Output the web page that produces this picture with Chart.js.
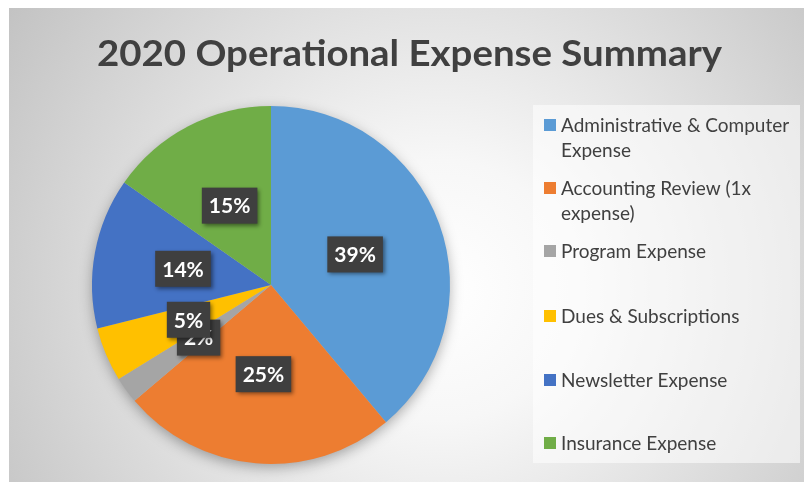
<!DOCTYPE html>
<html>
<head>
<meta charset="utf-8">
<script src="https://cdn.jsdelivr.net/npm/chart.js@4/dist/chart.umd.min.js"></script>
<style>
  html, body { margin: 0; padding: 0; background: #fff; }
  #wrap { width: 804px; height: 482px; position: relative; }
</style>
</head>
<body>
<div id="wrap"><canvas id="pieChart"></canvas></div>
<script>
const TITLE = '2020 Operational Expense Summary';
const categories = [
  'Administrative & Computer Expense',
  'Accounting Review (1x expense)',
  'Program Expense',
  'Dues & Subscriptions',
  'Newsletter Expense',
  'Insurance Expense'
];
const shares = [38.9, 24.9, 2.4, 4.9, 13.6, 15.3];
const colors = ['#5B9BD5', '#ED7D31', '#A5A5A5', '#FFC000', '#4472C4', '#70AD47'];

// legend row centres (Excel spreads them out unevenly)
const legendRows = [125, 188, 251, 316, 380, 443];

function wrapText(ctx, text, maxW) {
  const words = text.split(' ');
  const lines = [];
  let cur = '';
  words.forEach(w => {
    const t = cur ? cur + ' ' + w : w;
    if (ctx.measureText(t).width > maxW && cur) { lines.push(cur); cur = w; }
    else cur = t;
  });
  if (cur) lines.push(cur);
  return lines;
}

const excelLook = {
  id: 'excelLook',
  beforeDraw(chart) {
    const ctx = chart.ctx;
    const W = chart.width, H = chart.height;
    ctx.save();
    ctx.fillStyle = '#fff';
    ctx.fillRect(0, 0, W, H);
    const g = ctx.createRadialGradient(440, 290, 0, 440, 290, 520);
    g.addColorStop(0, '#ffffff');
    g.addColorStop(0.25, '#f7f7f7');
    g.addColorStop(1, '#c2c2c2');
    ctx.fillStyle = g;
    ctx.fillRect(9, 8, W - 9, H - 8);

    // title
    ctx.fillStyle = '#404040';
    ctx.font = 'bold 37px Lato';
    ctx.textBaseline = 'alphabetic';
    ctx.textAlign = 'left';
    const tw = ctx.measureText(TITLE).width;
    const sx = 625 / tw;
    ctx.translate(97, 66);
    ctx.scale(sx, 1);
    ctx.fillText(TITLE, 0, 0);
    ctx.restore();

    // legend box
    ctx.save();
    ctx.fillStyle = 'rgba(255,255,255,0.55)';
    ctx.fillRect(533, 105, 267, 358);
    ctx.font = '19px Lato';
    ctx.textBaseline = 'middle';
    categories.forEach((c, i) => {
      const y = legendRows[i];
      ctx.fillStyle = colors[i];
      ctx.fillRect(544, y - 6, 12, 12);
      ctx.fillStyle = '#404040';
      wrapText(ctx, c, 236).forEach((ln, k) => ctx.fillText(ln, 561, y + 1 + k * 25));
    });
    ctx.restore();
  },
  beforeDatasetsDraw(chart) {
    const arc = chart.getDatasetMeta(0).data[0];
    if (!arc) return;
    const ctx = chart.ctx;
    ctx.save();
    ctx.shadowColor = 'rgba(0,0,0,0.35)';
    ctx.shadowBlur = 14;
    ctx.shadowOffsetY = 4;
    ctx.fillStyle = '#bbb';
    ctx.beginPath();
    ctx.arc(arc.x, arc.y, arc.outerRadius - 1, 0, Math.PI * 2);
    ctx.fill();
    ctx.restore();
  },
  afterDatasetsDraw(chart) {
    const ctx = chart.ctx;
    const total = shares.reduce((s, v) => s + v, 0);
    ctx.save();
    ctx.font = 'bold 21px Lato';
    ctx.textAlign = 'center';
    ctx.textBaseline = 'middle';
    chart.getDatasetMeta(0).data.forEach((el, i) => {
      const p = el.tooltipPosition();
      const txt = Math.round(shares[i] / total * 100) + '%';
      const w = ctx.measureText(txt).width + 14;
      const h = 36;
      ctx.save();
      ctx.shadowColor = 'rgba(0,0,0,0.45)';
      ctx.shadowBlur = 4;
      ctx.shadowOffsetX = 2;
      ctx.shadowOffsetY = 2;
      ctx.fillStyle = '#3f3f3f';
      ctx.fillRect(p.x - w / 2, p.y - h / 2, w, h);
      ctx.restore();
      ctx.fillStyle = '#fff';
      ctx.fillText(txt, p.x, p.y + 1);
    });
    ctx.restore();
  }
};

new Chart(document.getElementById('pieChart'), {
  type: 'pie',
  data: {
    labels: categories,
    datasets: [{
      data: shares,
      backgroundColor: colors,
      borderWidth: 0
    }]
  },
  options: {
    responsive: true,
    maintainAspectRatio: false,
    animation: false,
    layout: { padding: { left: 92, right: 354, top: 106, bottom: 18 } },
    plugins: {
      legend: { display: false },
      title: { display: false },
      tooltip: { enabled: false }
    }
  },
  plugins: [excelLook]
});
</script>
</body>
</html>
